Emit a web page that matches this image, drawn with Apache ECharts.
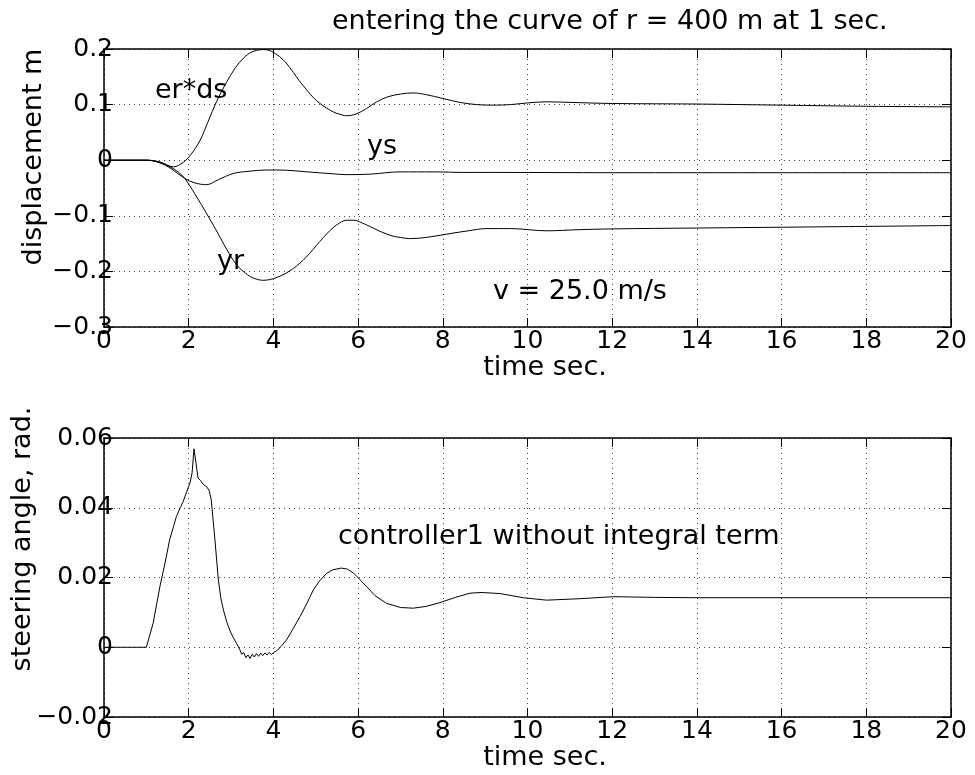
<!DOCTYPE html>
<html>
<head>
<meta charset="utf-8">
<script src="https://cdn.jsdelivr.net/npm/echarts@6/dist/echarts.min.js"></script>
<style>
html,body{margin:0;padding:0;background:#fff;}
#chart{width:975px;height:775px;}
</style>
</head>
<body>
<div id="chart"></div>
<script>
// ---------- data ----------
const xTicks = [0, 2, 4, 6, 8, 10, 12, 14, 16, 18, 20];
const xTickLabels = ['0', '2', '4', '6', '8', '10', '12', '14', '16', '18', '20'];
const topYTicks = [-0.3, -0.2, -0.1, 0, 0.1, 0.2];
const topYTickLabels = ['\u22120.3', '\u22120.2', '\u22120.1', '0', '0.1', '0.2'];
const botYTicks = [-0.02, 0, 0.02, 0.04, 0.06];
const botYTickLabels = ['\u22120.02', '0', '0.02', '0.04', '0.06'];

// er*ds (top curve)
const tErds = [0, 1.0, 1.32, 1.64, 1.87, 2.05, 2.27, 2.45, 2.66, 2.9, 3.1, 3.3, 3.5, 3.76, 3.95, 4.15, 4.3, 4.47, 4.6, 4.79, 4.95, 5.1, 5.25, 5.41, 5.55, 5.73, 5.95, 6.2, 6.44, 6.7, 7.0, 7.3, 7.6, 8.0, 8.4, 8.8, 9.2, 9.6, 10.0, 10.45, 11.0, 12.0, 14.0, 16.0, 18.0, 20.0];
const vErds = [0, 0, -0.003, -0.012, -0.004, 0.010, 0.036, 0.068, 0.106, 0.141, 0.166, 0.184, 0.195, 0.199, 0.196, 0.186, 0.175, 0.158, 0.144, 0.126, 0.112, 0.102, 0.094, 0.087, 0.083, 0.080, 0.083, 0.093, 0.105, 0.114, 0.119, 0.121, 0.118, 0.111, 0.104, 0.100, 0.099, 0.100, 0.103, 0.105, 0.104, 0.102, 0.101, 0.099, 0.097, 0.096];

// ys (middle curve)
const tYs = [0, 1.0, 1.3, 1.6, 1.91, 2.15, 2.42, 2.7, 3.05, 3.4, 3.84, 4.3, 4.8, 5.41, 5.73, 6.3, 6.99, 7.77, 8.5, 9.35, 12.0, 16.0, 20.0];
const vYs = [0, 0, -0.004, -0.016, -0.033, -0.041, -0.044, -0.035, -0.024, -0.020, -0.0176, -0.018, -0.021, -0.0245, -0.026, -0.025, -0.021, -0.021, -0.022, -0.022, -0.0225, -0.0225, -0.0225];

// yr (lower curve)
const tYr = [0, 1.0, 1.3, 1.56, 1.75, 1.91, 2.1, 2.3, 2.5, 2.7, 2.97, 3.15, 3.29, 3.5, 3.76, 4.0, 4.2, 4.39, 4.55, 4.7, 4.85, 5.02, 5.18, 5.33, 5.5, 5.73, 5.9, 6.1, 6.3, 6.55, 6.8, 7.0, 7.22, 7.6, 8.17, 8.6, 9.04, 9.6, 10.45, 11.2, 12.03, 14.0, 16.75, 20.0];
const vYr = [0, 0, -0.004, -0.012, -0.021, -0.033, -0.055, -0.080, -0.106, -0.133, -0.170, -0.190, -0.200, -0.211, -0.216, -0.213, -0.207, -0.199, -0.190, -0.180, -0.168, -0.153, -0.139, -0.127, -0.116, -0.108, -0.108, -0.113, -0.120, -0.129, -0.136, -0.139, -0.141, -0.139, -0.132, -0.127, -0.123, -0.123, -0.127, -0.125, -0.1235, -0.122, -0.120, -0.1175];

// steering angle
const tSteer = [0, 1.0, 1.16, 1.32, 1.44, 1.55, 1.65, 1.71, 1.80, 1.87, 1.95, 2.03, 2.08, 2.125, 2.17, 2.22, 2.28, 2.35, 2.42, 2.48, 2.53, 2.58, 2.62, 2.66, 2.70, 2.76, 2.82, 2.9, 2.97, 3.05, 3.13, 3.2, 3.25, 3.3, 3.35, 3.4, 3.45, 3.5, 3.55, 3.6, 3.65, 3.7, 3.75, 3.8, 3.85, 3.9, 3.95, 4.0, 4.1, 4.2, 4.31, 4.45, 4.63, 4.8, 4.94, 5.1, 5.26, 5.4, 5.6, 5.75, 5.9, 6.05, 6.2, 6.4, 6.67, 7.0, 7.3, 7.6, 7.93, 8.3, 8.64, 8.9, 9.35, 9.9, 10.45, 11.2, 12.03, 13.0, 14.0, 20.0];
const vSteer = [0, 0, 0.0069, 0.0174, 0.0241, 0.0308, 0.0350, 0.0375, 0.0400, 0.0418, 0.0445, 0.0471, 0.0500, 0.0569, 0.0530, 0.0485, 0.0478, 0.0466, 0.0461, 0.0450, 0.0425, 0.0360, 0.0308, 0.0250, 0.0193, 0.0140, 0.0107, 0.0072, 0.0049, 0.0028, 0.0011, -0.0005, -0.0020, -0.0015, -0.0030, -0.0022, -0.0032, -0.0020, -0.0028, -0.0018, -0.0026, -0.0017, -0.0024, -0.0016, -0.0022, -0.0015, -0.0021, -0.0016, -0.0008, 0.0005, 0.0021, 0.0050, 0.0088, 0.0128, 0.0164, 0.0192, 0.0212, 0.0222, 0.0227, 0.0224, 0.0212, 0.0193, 0.0174, 0.0148, 0.0126, 0.0114, 0.0112, 0.0117, 0.0128, 0.0143, 0.0155, 0.0157, 0.0154, 0.0142, 0.0135, 0.0139, 0.0145, 0.0143, 0.0142, 0.0142];

const titleText = 'entering the curve of r = 400 m at 1 sec.';
const annotTop = ['er*ds', 'ys', 'yr', 'v = 25.0 m/s'];
const annotBottom = 'controller1 without integral term';
const xName = 'time sec.';
const yNameTop = 'displacement m';
const yNameBottom = 'steering angle, rad.';

// ---------- chart ----------
const FONT = '"DejaVu Sans", "Liberation Sans", sans-serif';
const zip = (a, b) => a.map((x, i) => [x, b[i]]);
function lookup(ticks, labels, v) {
  for (let i = 0; i < ticks.length; i++) if (Math.abs(ticks[i] - v) < 1e-9) return labels[i];
  return '';
}
const grids = [
  { left: 104, top: 49, width: 847, height: 278 },
  { left: 104, top: 438, width: 847, height: 279 }
];
const lineCol = '#000';
const dotted = { show: true, lineStyle: { color: '#444', width: 1, type: [1, 4] } };

function xAx(gi, pos, main) {
  return {
    type: 'value', gridIndex: gi, position: pos, min: 0, max: 20, interval: 2,
    axisLine: { show: true, onZero: false, lineStyle: { color: lineCol, width: 1.5 } },
    axisTick: { show: true, inside: true, length: 9, lineStyle: { color: lineCol, width: 1 } },
    axisLabel: main ? {
      show: true, margin: 2, color: '#000', fontSize: 25, fontFamily: FONT,
      showMinLabel: true, showMaxLabel: true,
      formatter: v => lookup(xTicks, xTickLabels, v)
    } : { show: false },
    splitLine: main ? dotted : { show: false }
  };
}
function yAx(gi, pos, main, min, max, interval, ticks, labels) {
  return {
    type: 'value', gridIndex: gi, position: pos, min: min, max: max, interval: interval,
    axisLine: { show: true, onZero: false, lineStyle: { color: lineCol, width: 1.5 } },
    axisTick: { show: true, inside: true, length: 9, lineStyle: { color: lineCol, width: 1 } },
    axisLabel: main ? {
      show: true, margin: -9, color: '#000', fontSize: 25, fontFamily: FONT,
      showMinLabel: true, showMaxLabel: true,
      formatter: v => lookup(ticks, labels, v)
    } : { show: false },
    splitLine: main ? dotted : { show: false }
  };
}

function txt(text, x, y, align, rot) {
  const el = {
    type: 'text', x: x, y: y, z: 100,
    style: { text: text, x: 0, y: 0, fill: '#000', font: '27px ' + FONT, align: align, verticalAlign: 'middle' }
  };
  if (rot) el.rotation = rot;
  return el;
}

function lineSeries(name, xi, yi, data, smooth) {
  return {
    name: name, type: 'line', xAxisIndex: xi, yAxisIndex: yi, data: data,
    smooth: smooth, showSymbol: false, symbol: 'none',
    lineStyle: { color: '#000', width: 1 }
  };
}

const chart = echarts.init(document.getElementById('chart'), null, { renderer: 'canvas' });
chart.setOption({
  backgroundColor: '#fff',
  animation: false,
  grid: grids,
  xAxis: [xAx(0, 'bottom', true), xAx(0, 'top', false), xAx(1, 'bottom', true), xAx(1, 'top', false)],
  yAxis: [
    yAx(0, 'left', true, -0.3, 0.2, 0.1, topYTicks, topYTickLabels),
    yAx(0, 'right', false, -0.3, 0.2, 0.1, topYTicks, topYTickLabels),
    yAx(1, 'left', true, -0.02, 0.06, 0.02, botYTicks, botYTickLabels),
    yAx(1, 'right', false, -0.02, 0.06, 0.02, botYTicks, botYTickLabels)
  ],
  series: [
    lineSeries('er*ds', 0, 0, zip(tErds, vErds), 0.35),
    lineSeries('ys', 0, 0, zip(tYs, vYs), 0.35),
    lineSeries('yr', 0, 0, zip(tYr, vYr), 0.35),
    lineSeries('steering', 2, 2, zip(tSteer, vSteer), false)
  ],
  graphic: [
    txt(titleText, 332, 22, 'left'),
    txt(annotTop[0], 155, 91, 'left'),
    txt(annotTop[1], 367, 147, 'left'),
    txt(annotTop[2], 217, 262, 'left'),
    txt(annotTop[3], 493, 292, 'left'),
    txt(annotBottom, 338, 537, 'left'),
    txt(xName, 545, 368, 'center'),
    txt(xName, 545, 758, 'center'),
    txt(yNameTop, 34, 157, 'center', Math.PI / 2),
    txt(yNameBottom, 23, 539, 'center', Math.PI / 2)
  ]
});
</script>
</body>
</html>
